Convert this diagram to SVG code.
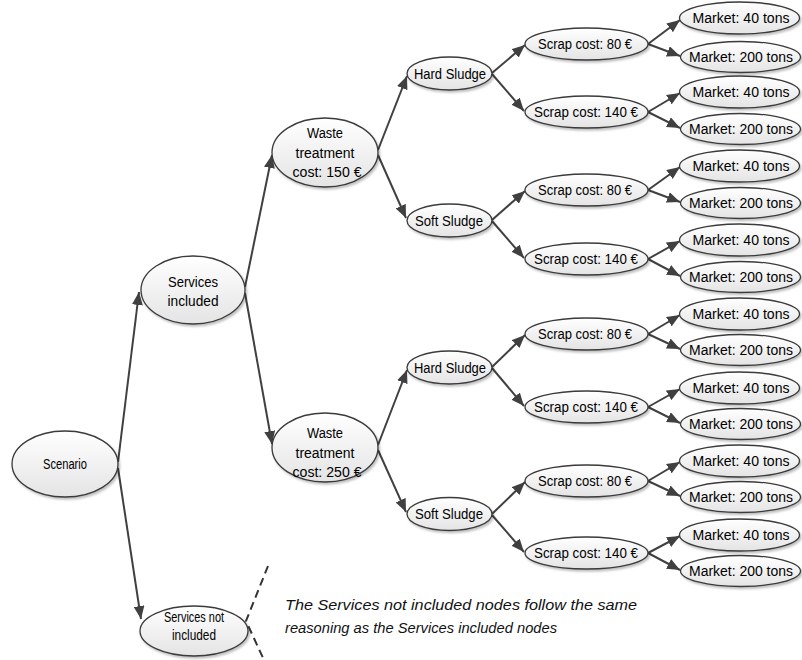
<svg xmlns="http://www.w3.org/2000/svg" width="802" height="660" viewBox="0 0 802 660">
<defs>
<linearGradient id="g" x1="0" y1="0" x2="0" y2="1">
<stop offset="0" stop-color="#ffffff"/>
<stop offset="1" stop-color="#e4e4e4"/>
</linearGradient>
<filter id="sh" x="-20%" y="-20%" width="140%" height="150%">
<feDropShadow dx="1.5" dy="2" stdDeviation="1.2" flood-color="#000" flood-opacity="0.25"/>
</filter>
<marker id="ah" markerUnits="userSpaceOnUse" markerWidth="13" markerHeight="11" refX="13" refY="5.5" orient="auto">
<path d="M0,0 L13,5.5 L0,11 z" fill="#404040"/>
</marker>
</defs>
<style>
.n ellipse{fill:url(#g);stroke:#3a3a3a;stroke-width:1.3;filter:url(#sh)}
.n text{font-family:"Liberation Sans",Arial,sans-serif;font-size:14px;fill:#000;text-anchor:middle}
#connectors line{stroke:#404040;stroke-width:2;marker-end:url(#ah)}
.dash{stroke:#333;stroke-width:2;stroke-dasharray:8 5;fill:none}
.cap{font-family:"Liberation Sans",Arial,sans-serif;font-size:15px;font-style:italic;fill:#111}
</style>
<rect width="802" height="660" fill="#fff"/>

<g id="connectors">
<line x1="118" y1="462" x2="139" y2="292"/>
<line x1="118" y1="468" x2="141" y2="619"/>
<line x1="245" y1="287" x2="272" y2="155"/>
<line x1="245" y1="293" x2="272" y2="444"/>
<line x1="378" y1="150" x2="407" y2="76"/>
<line x1="378" y1="155" x2="406" y2="218"/>
<line x1="378" y1="445" x2="407" y2="370"/>
<line x1="378" y1="450" x2="406" y2="512"/>
<line x1="492" y1="73" x2="525" y2="45"/>
<line x1="492" y1="74" x2="524" y2="111"/>
<line x1="492" y1="220" x2="525" y2="191"/>
<line x1="492" y1="221" x2="524" y2="258"/>
<line x1="492" y1="367" x2="525" y2="335"/>
<line x1="492" y1="368" x2="524" y2="406"/>
<line x1="492" y1="514" x2="525" y2="482"/>
<line x1="492" y1="515" x2="524" y2="552"/>
<line x1="648" y1="44" x2="680" y2="20"/>
<line x1="648" y1="44" x2="680" y2="56"/>
<line x1="648" y1="112" x2="680" y2="93"/>
<line x1="648" y1="112" x2="680" y2="128"/>
<line x1="648" y1="190" x2="680" y2="167"/>
<line x1="648" y1="190" x2="680" y2="202"/>
<line x1="648" y1="259" x2="680" y2="241"/>
<line x1="648" y1="259" x2="680" y2="276"/>
<line x1="648" y1="334" x2="680" y2="315"/>
<line x1="648" y1="334" x2="680" y2="349"/>
<line x1="648" y1="407" x2="680" y2="389"/>
<line x1="648" y1="407" x2="680" y2="423"/>
<line x1="648" y1="481" x2="680" y2="462"/>
<line x1="648" y1="481" x2="680" y2="496"/>
<line x1="648" y1="553" x2="680" y2="536"/>
<line x1="648" y1="553" x2="680" y2="570"/>
</g>

<g id="scenario" class="n"><ellipse cx="65" cy="464" rx="53" ry="33"/><text x="65" y="469" textLength="44" lengthAdjust="spacingAndGlyphs">Scenario</text></g>
<g id="services-included" class="n"><ellipse cx="193" cy="290" rx="52" ry="34"/><text x="193" y="287" textLength="50" lengthAdjust="spacingAndGlyphs">Services</text><text x="193" y="306" textLength="51" lengthAdjust="spacingAndGlyphs">included</text></g>
<g id="services-not-included" class="n"><ellipse cx="194" cy="631" rx="54" ry="25"/><text x="194" y="622" textLength="60" lengthAdjust="spacingAndGlyphs">Services not</text><text x="194" y="640" textLength="44" lengthAdjust="spacingAndGlyphs">included</text></g>

<g id="waste-150" class="n"><ellipse cx="325" cy="152.5" rx="53" ry="34.5"/><text x="325" y="138" textLength="36" lengthAdjust="spacingAndGlyphs">Waste</text><text x="325" y="158" textLength="59" lengthAdjust="spacingAndGlyphs">treatment</text><text x="327" y="177" textLength="69" lengthAdjust="spacingAndGlyphs">cost: 150 €</text></g>
<g id="waste-250" class="n"><ellipse cx="325" cy="447.5" rx="53" ry="34.5"/><text x="325" y="438" textLength="36" lengthAdjust="spacingAndGlyphs">Waste</text><text x="325" y="458" textLength="59" lengthAdjust="spacingAndGlyphs">treatment</text><text x="327" y="477" textLength="69" lengthAdjust="spacingAndGlyphs">cost: 250 €</text></g>

<g id="hard-sludge-1" class="n"><ellipse cx="449.5" cy="73.5" rx="42.5" ry="16.5"/><text x="450" y="78.5" textLength="72" lengthAdjust="spacingAndGlyphs">Hard Sludge</text></g>
<g id="soft-sludge-1" class="n"><ellipse cx="449.5" cy="220.5" rx="42.5" ry="16.5"/><text x="449" y="225.5" textLength="68" lengthAdjust="spacingAndGlyphs">Soft Sludge</text></g>
<g id="hard-sludge-2" class="n"><ellipse cx="449.5" cy="367.5" rx="42.5" ry="16.5"/><text x="450" y="372.5" textLength="72" lengthAdjust="spacingAndGlyphs">Hard Sludge</text></g>
<g id="soft-sludge-2" class="n"><ellipse cx="449.5" cy="514" rx="42.5" ry="16.5"/><text x="449" y="519" textLength="68" lengthAdjust="spacingAndGlyphs">Soft Sludge</text></g>

<g id="scrap-80-1" class="n"><ellipse cx="586.5" cy="44" rx="61.5" ry="16"/><text x="585" y="49" textLength="94" lengthAdjust="spacingAndGlyphs">Scrap cost: 80 €</text></g>
<g id="scrap-140-1" class="n"><ellipse cx="586.5" cy="112" rx="61.5" ry="16"/><text x="586" y="117" textLength="104" lengthAdjust="spacingAndGlyphs">Scrap cost: 140 €</text></g>
<g id="scrap-80-2" class="n"><ellipse cx="586.5" cy="190" rx="61.5" ry="16"/><text x="585" y="195" textLength="94" lengthAdjust="spacingAndGlyphs">Scrap cost: 80 €</text></g>
<g id="scrap-140-2" class="n"><ellipse cx="586.5" cy="259" rx="61.5" ry="16"/><text x="586" y="264" textLength="104" lengthAdjust="spacingAndGlyphs">Scrap cost: 140 €</text></g>
<g id="scrap-80-3" class="n"><ellipse cx="586.5" cy="334" rx="61.5" ry="16"/><text x="585" y="339" textLength="94" lengthAdjust="spacingAndGlyphs">Scrap cost: 80 €</text></g>
<g id="scrap-140-3" class="n"><ellipse cx="586.5" cy="407" rx="61.5" ry="16"/><text x="586" y="412" textLength="104" lengthAdjust="spacingAndGlyphs">Scrap cost: 140 €</text></g>
<g id="scrap-80-4" class="n"><ellipse cx="586.5" cy="481" rx="61.5" ry="16"/><text x="585" y="486" textLength="94" lengthAdjust="spacingAndGlyphs">Scrap cost: 80 €</text></g>
<g id="scrap-140-4" class="n"><ellipse cx="586.5" cy="553" rx="61.5" ry="16"/><text x="586" y="558" textLength="104" lengthAdjust="spacingAndGlyphs">Scrap cost: 140 €</text></g>

<g id="market-40-1" class="n"><ellipse cx="739.5" cy="18" rx="60" ry="16"/><text x="741" y="23" textLength="97" lengthAdjust="spacingAndGlyphs">Market: 40 tons</text></g>
<g id="market-200-1" class="n"><ellipse cx="740.5" cy="57" rx="60" ry="15.5"/><text x="741" y="62" textLength="104" lengthAdjust="spacingAndGlyphs">Market: 200 tons</text></g>
<g id="market-40-2" class="n"><ellipse cx="739.5" cy="92" rx="60" ry="16"/><text x="741" y="97" textLength="97" lengthAdjust="spacingAndGlyphs">Market: 40 tons</text></g>
<g id="market-200-2" class="n"><ellipse cx="740.5" cy="129" rx="60" ry="15.5"/><text x="741" y="134" textLength="104" lengthAdjust="spacingAndGlyphs">Market: 200 tons</text></g>
<g id="market-40-3" class="n"><ellipse cx="739.5" cy="166" rx="60" ry="16"/><text x="741" y="171" textLength="97" lengthAdjust="spacingAndGlyphs">Market: 40 tons</text></g>
<g id="market-200-3" class="n"><ellipse cx="740.5" cy="203" rx="60" ry="15.5"/><text x="741" y="208" textLength="104" lengthAdjust="spacingAndGlyphs">Market: 200 tons</text></g>
<g id="market-40-4" class="n"><ellipse cx="739.5" cy="240" rx="60" ry="16"/><text x="741" y="245" textLength="97" lengthAdjust="spacingAndGlyphs">Market: 40 tons</text></g>
<g id="market-200-4" class="n"><ellipse cx="740.5" cy="277" rx="60" ry="15.5"/><text x="741" y="282" textLength="104" lengthAdjust="spacingAndGlyphs">Market: 200 tons</text></g>
<g id="market-40-5" class="n"><ellipse cx="739.5" cy="314" rx="60" ry="16"/><text x="741" y="319" textLength="97" lengthAdjust="spacingAndGlyphs">Market: 40 tons</text></g>
<g id="market-200-5" class="n"><ellipse cx="740.5" cy="350" rx="60" ry="15.5"/><text x="741" y="355" textLength="104" lengthAdjust="spacingAndGlyphs">Market: 200 tons</text></g>
<g id="market-40-6" class="n"><ellipse cx="739.5" cy="388" rx="60" ry="16"/><text x="741" y="393" textLength="97" lengthAdjust="spacingAndGlyphs">Market: 40 tons</text></g>
<g id="market-200-6" class="n"><ellipse cx="740.5" cy="424" rx="60" ry="15.5"/><text x="741" y="429" textLength="104" lengthAdjust="spacingAndGlyphs">Market: 200 tons</text></g>
<g id="market-40-7" class="n"><ellipse cx="739.5" cy="461" rx="60" ry="16"/><text x="741" y="466" textLength="97" lengthAdjust="spacingAndGlyphs">Market: 40 tons</text></g>
<g id="market-200-7" class="n"><ellipse cx="740.5" cy="497" rx="60" ry="15.5"/><text x="741" y="502" textLength="104" lengthAdjust="spacingAndGlyphs">Market: 200 tons</text></g>
<g id="market-40-8" class="n"><ellipse cx="739.5" cy="535" rx="60" ry="16"/><text x="741" y="540" textLength="97" lengthAdjust="spacingAndGlyphs">Market: 40 tons</text></g>
<g id="market-200-8" class="n"><ellipse cx="740.5" cy="571" rx="60" ry="15.5"/><text x="741" y="576" textLength="104" lengthAdjust="spacingAndGlyphs">Market: 200 tons</text></g>

<path class="dash" d="M268,566 L246,621 L264,660"/>
<text class="cap" x="285" y="610" textLength="352" lengthAdjust="spacingAndGlyphs">The Services  not included  nodes follow  the same</text>
<text class="cap" x="285" y="633" textLength="272" lengthAdjust="spacingAndGlyphs">reasoning as the Services included nodes</text>
</svg>
